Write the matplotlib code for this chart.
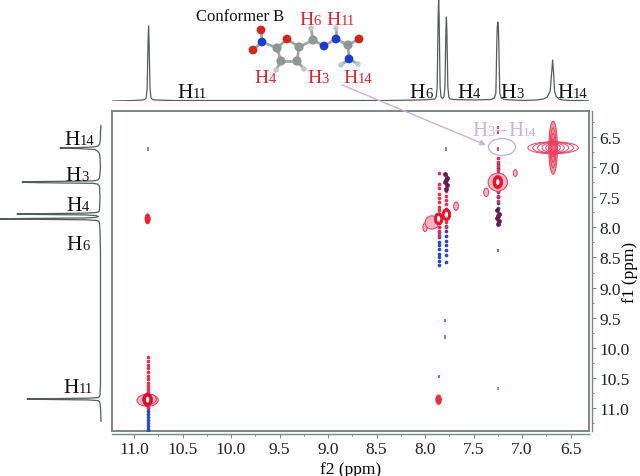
import matplotlib
matplotlib.use('Agg')
import matplotlib.pyplot as plt
from matplotlib.patches import Ellipse, FancyArrowPatch
from matplotlib.ticker import MultipleLocator

plt.rcParams['font.family'] = ['Liberation Serif', 'DejaVu Serif']

W, H = 640, 477
LINE = '#7d8786'

# 1D projections: shift (ppm) and intensity (pixels of height / width)
top_ppm = [11.22, 11.0, 10.92, 10.89, 10.875, 10.865, 10.855, 10.85, 10.845, 10.835, 10.825, 10.81, 10.78, 10.6,
           10.3, 9.9, 9.4, 8.9, 8.4, 8.05, 7.95, 7.9, 7.885, 7.875, 7.865, 7.86, 7.855, 7.845, 7.835, 7.82,
           7.805, 7.795, 7.785, 7.78, 7.775, 7.765, 7.755, 7.74, 7.7, 7.5, 7.32, 7.285, 7.27, 7.26, 7.255,
           7.25, 7.245, 7.24, 7.23, 7.215, 7.18, 7.0, 6.85, 6.78, 6.74, 6.71, 6.695, 6.685, 6.675, 6.665,
           6.65, 6.62, 6.58, 6.5, 6.4, 6.31]
top_int = [0, 0.5, 1, 1.5, 3, 12, 60, 75, 60, 12, 3, 1.5, 1, 0.5,
           0.5, 0.5, 0.5, 0.5, 0.5, 1, 1.5, 2, 4, 14, 85, 101, 85, 14, 4, 2.5,
           4, 14, 70, 84, 70, 14, 4, 2, 1.5, 1, 1.5, 3, 8, 60, 75,
           79, 75, 60, 8, 3, 1.5, 0.5, 1, 2, 4, 10, 28, 41, 28, 10,
           5, 2, 1, 0.5, 0.5, 0]
left_int = [0, 0.5, 1, 1.5, 3, 12, 60, 74, 60, 12, 3, 1.5, 1, 0.5,
            0.5, 0.5, 0.5, 0.5, 0.5, 1, 1.5, 2, 5, 16, 85, 101, 85, 16, 5, 2.5,
            5, 16, 70, 84, 70, 16, 5, 2, 1.5, 1, 1.5, 3, 8, 60, 75,
            79, 75, 60, 8, 3, 1.5, 0.5, 1, 1.5, 3, 6, 20, 41, 20, 6,
            3, 1.5, 1, 0.5, 0.5, 0]

# cross peaks: f2, f1, width in f2, height in f1
solid_f2 = [10.86, 7.86, 7.86, 7.78, 7.25, 10.86]
solid_f1 = [7.86, 10.86, 7.86, 7.79, 7.25, 10.86]
solid_w = [0.055, 0.06, 0.09, 0.09, 0.1, 0.1]
solid_h = [0.17, 0.16, 0.2, 0.2, 0.22, 0.22]
solid_col = ['#ef2030', '#e83040', '#e8102c', '#e8102c', '#e8102c', '#d8102c']

side_f2 = [8.0, 7.93, 7.68, 7.37, 7.07, 7.25, 10.86, 10.84]
side_f1 = [8.0, 7.92, 7.65, 7.42, 7.1, 7.25, 10.87, 10.85]
side_w = [0.045, 0.14, 0.05, 0.05, 0.04, 0.2, 0.22, 0.14]
side_h = [0.14, 0.22, 0.14, 0.14, 0.11, 0.3, 0.2, 0.16]

small_f2 = [10.86, 7.78, 7.25, 7.25, 7.25, 7.86, 7.79, 7.79, 7.25, 7.25]
small_f1 = [6.7, 6.7, 6.7, 6.34, 10.67, 10.47, 9.55, 9.82, 8.38, 6.42]
small_col = ['#5a70c0', '#5a70c0', '#e02040', '#e02040', '#e06070', '#e03050', '#e03050', '#6070c0', '#4060c0', '#e02040']

# t1 noise streaks
red_f2 = [7.86] * 13 + [7.78] * 8 + [7.25] * 8 + [10.86] * 14
red_f1 = [7.1, 7.28, 7.35, 7.45, 7.52, 7.58, 7.66, 7.72, 7.78, 7.93, 8.0, 8.06, 8.12,
          7.15, 7.4, 7.48, 7.55, 7.62, 7.7, 7.92, 8.0,
          6.85, 6.92, 6.98, 7.05, 7.12, 7.4, 7.48, 7.56,
          10.15, 10.22, 10.28, 10.34, 10.4, 10.46, 10.52, 10.58, 10.63, 10.68, 10.73, 10.78, 10.93, 10.98]
blue_f2 = [7.86] * 11 + [7.78] * 9 + [7.25] * 10 + [10.86] * 10
blue_f1 = [8.0, 8.08, 8.16, 8.24, 8.3, 8.36, 8.44, 8.5, 8.56, 8.62, 7.92,
           7.98, 8.06, 8.14, 8.22, 8.3, 8.38, 8.46, 7.7, 8.58,
           6.95, 7.02, 7.1, 7.35, 7.42, 7.5, 7.6, 7.68, 7.8, 7.9,
           10.95, 11.0, 11.05, 11.1, 11.15, 11.2, 11.25, 11.3, 11.35, 11.38]
dark_f2 = [7.79, 7.77, 7.79, 7.77, 7.78, 7.78, 7.26, 7.24, 7.26, 7.24, 7.25, 7.25]
dark_f1 = [7.12, 7.18, 7.24, 7.3, 7.36, 7.22, 7.72, 7.78, 7.84, 7.9, 7.95, 7.82]

# strong H14 diagonal peak
h14_f2, h14_f1 = 6.68, 6.68
h14_w = [0.52, 0.42, 0.32, 0.23, 0.15, 0.09]
h14_h = [0.2, 0.19, 0.18, 0.16, 0.14, 0.11]
h14_cw = [0.09, 0.06, 0.04, 0.02]
h14_ch = [0.88, 0.66, 0.48, 0.3]

# molecule, in picture pixels
atom_x = [261, 253, 287, 359, 262, 324, 336, 349, 277, 299, 313, 348, 281, 297, 311, 336, 341, 358, 276, 304]
atom_y = [31, 51, 40, 40, 43, 47, 40, 60, 49, 48, 41, 46, 62, 62, 29, 29, 66, 65, 71, 70]
atom_col = ['#d0281c'] * 4 + ['#1c3ed0'] * 4 + ['#8d9794'] * 6 + ['#c2cac8'] * 6
atom_s = [40] * 4 + [40] * 4 + [44] * 6 + [16] * 6
bonds = [(0, 4), (1, 4), (4, 8), (8, 2), (2, 9), (8, 12), (12, 13), (13, 9), (9, 10), (10, 5), (5, 6), (6, 11),
         (11, 3), (11, 7), (10, 14), (6, 15), (7, 16), (7, 17), (12, 18), (13, 19)]

# (x, baseline y, number) for the H labels, in picture pixels
top_labels = [(177, 98, '11'), (409, 98, '6'), (457, 98, '4'), (500, 98, '3'), (557, 98, '14')]
left_labels = [(64, 145, '14'), (65, 181, '3'), (66, 211, '4'), (66, 250, '6'), (63, 393, '11')]
red_labels = [(299, 25, '6'), (326, 25, '11'), (254, 83, '4'), (307, 83, '3'), (343, 83, '14')]

fig = plt.figure(figsize=(W / 100, H / 100), dpi=100)


def box(x0, y0, x1, y1):
    return [x0 / W, 1 - y1 / H, (x1 - x0) / W, (y1 - y0) / H]


def h_label(ax, x, y, num, color='black', size=15.5, small=10.5):
    ax.text(x, y, 'H', color=color, fontsize=size, va='baseline', ha='left')
    ax.text(x + size * 0.72 * 100 / 72 + 0.5, y, num, color=color, fontsize=small, va='baseline', ha='left')


# main 2D plot
ax = fig.add_axes(box(112, 112, 589, 432))
ax.set_xlim(11.227, 6.31)
ax.set_ylim(11.38, 6.07)
ax.yaxis.tick_right()
ax.xaxis.set_major_locator(MultipleLocator(0.5))
ax.xaxis.set_minor_locator(MultipleLocator(0.25))
ax.yaxis.set_major_locator(MultipleLocator(0.5))
ax.yaxis.set_minor_locator(MultipleLocator(0.25))
ax.tick_params(which='major', labelcolor='#202020', color=LINE, length=3, width=0.8, labelsize=12.5, pad=2)
ax.tick_params(which='minor', color=LINE, length=1.5, width=0.7)
ax.set_xlabel('f2 (ppm)', fontsize=12.5, labelpad=3)
ax.set_ylabel('f1 (ppm)', fontsize=12.5)
ax.yaxis.set_label_position('right')
ax.yaxis.set_label_coords(1.069, 0.5)
ax.xaxis.set_major_formatter(lambda v, p: f'{v:.1f}')
ax.yaxis.set_major_formatter(lambda v, p: f'{v:.1f}')
for s in ['left', 'top']:
    ax.spines[s].set_color(LINE)
    ax.spines[s].set_linewidth(1.4)
for s in ['right', 'bottom']:
    ax.spines[s].set_color(LINE)
    ax.spines[s].set_linewidth(1.0)
    ax.spines[s].set_position(('outward', 2.2))
ax.axvline(6.31, color=LINE, lw=1.4, clip_on=False)
ax.axhline(11.38, color=LINE, lw=1.4, clip_on=False)

ax.scatter(blue_f2, blue_f1, s=7, c='#2648c8', marker='o', linewidths=0, zorder=2)
ax.scatter(red_f2, red_f1, s=7, c='#e8304c', marker='o', linewidths=0, zorder=3)
ax.scatter(small_f2, small_f1, s=5, c=small_col, marker='|', linewidths=1.2, zorder=4)

for x, y, w, h in zip(side_f2, side_f1, side_w, side_h):
    ax.add_patch(Ellipse((x, y), w, h, fc='#f8b4c0', ec='#e83858', lw=0.7, zorder=4))
ax.scatter(dark_f2, dark_f1, s=12, c='#6a1a50', marker='o', linewidths=0, zorder=4)
for x, y, w, h, c in zip(solid_f2, solid_f1, solid_w, solid_h, solid_col):
    ax.add_patch(Ellipse((x, y), w, h, fc=c, ec=c, lw=0.5, zorder=5))
# open centres on the strong diagonal peaks
for x, y in zip([7.86, 7.78, 7.25, 10.86], [7.86, 7.79, 7.25, 10.86]):
    ax.add_patch(Ellipse((x, y), 0.035, 0.1, fc='white', ec='none', zorder=6))

# H14 peak: nested contours, horizontal and vertical arms
for w, h in zip(h14_cw, h14_ch):
    ax.add_patch(Ellipse((h14_f2, h14_f1), w, h, fc='#f4909f', ec='#e84060', lw=0.7, zorder=4))
for w, h in zip(h14_w, h14_h):
    ax.add_patch(Ellipse((h14_f2, h14_f1), w, h, fc='none', ec='#e84060', lw=0.7, zorder=4))

# top 1D trace
ax_top = fig.add_axes(box(112, 0, 589, 102))
ax_top.set_xlim(11.227, 6.31)
ax_top.set_ylim(0, 102)
ax_top.plot(top_ppm, top_int, color='#555c5a', lw=0.9)
ax_top.axis('off')

# left 1D trace
ax_left = fig.add_axes(box(0, 112, 101, 432))
ax_left.set_ylim(11.38, 6.07)
ax_left.set_xlim(101, 0)
ax_left.plot(left_int, top_ppm, color='#555c5a', lw=0.9, clip_on=False)
ax_left.axis('off')

# annotation layer in picture pixels
over = fig.add_axes([0, 0, 1, 1], zorder=10)
over.set_xlim(0, W)
over.set_ylim(H, 0)
over.axis('off')
over.patch.set_alpha(0)

over.text(196, 21, 'Conformer B', fontsize=12, va='baseline', ha='left', color='#111111')
for x, y, n in top_labels + left_labels:
    h_label(over, x, y, n, color='#111111')
for x, y, n in red_labels:
    h_label(over, x, y, n, color='#e8202c', size=14, small=10.5)

for a, b in bonds:
    over.plot([atom_x[a], atom_x[b]], [atom_y[a], atom_y[b]], color='#a0a8a6', lw=2, zorder=1,
              solid_capstyle='round')
over.scatter(atom_x, atom_y, s=atom_s, c=atom_col, linewidths=0, zorder=2)

PURPLE = '#c8b4e2'
over.add_patch(FancyArrowPatch((342, 86), (486, 146), arrowstyle='-|>', mutation_scale=8, color=PURPLE, lw=1,
                               shrinkA=0, shrinkB=0))
over.add_patch(Ellipse((502, 148), 27, 17, fc='none', ec=PURPLE, lw=1))
over.text(472, 136, 'H', color=PURPLE, fontsize=15, va='baseline')
over.text(487, 136, '3', color=PURPLE, fontsize=10.5, va='baseline')
over.text(494.5, 136, '--', color=PURPLE, fontsize=14, va='baseline')
over.text(508, 136, 'H', color=PURPLE, fontsize=15, va='baseline')
over.text(523, 136, '14', color=PURPLE, fontsize=9.5, va='baseline')

fig.savefig('out.png', dpi=100)
